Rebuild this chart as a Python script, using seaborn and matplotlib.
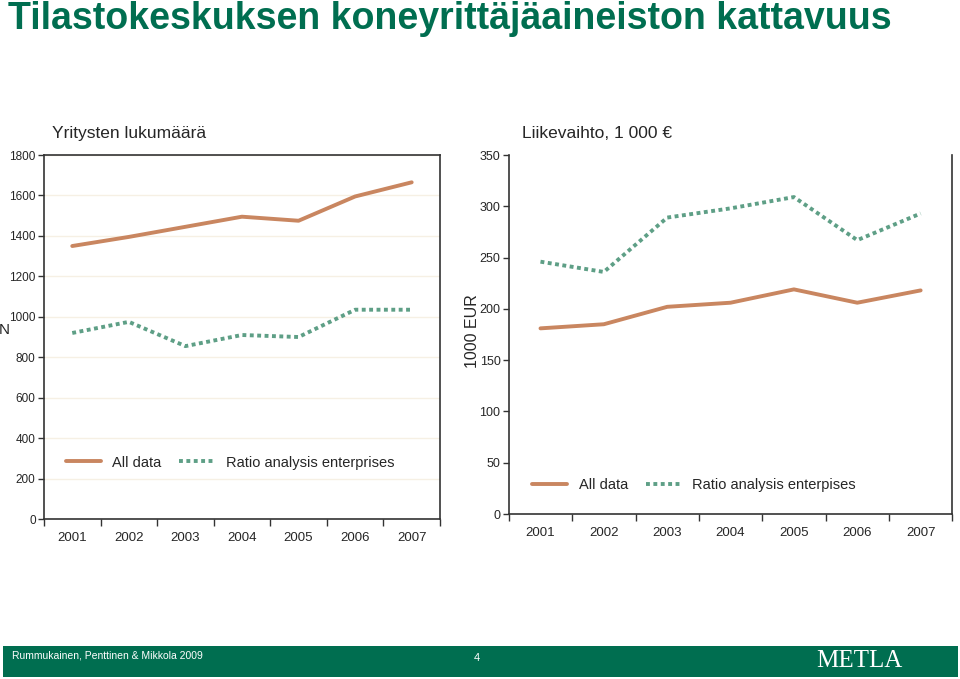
import pandas as pd
import seaborn as sns
import matplotlib.pyplot as plt
from matplotlib.patches import Rectangle
from matplotlib.ticker import MultipleLocator

# data
years = ['2001', '2002', '2003', '2004', '2005', '2006', '2007']
n_all = [1350, 1395, 1445, 1495, 1475, 1595, 1665]
n_ratio = [920, 975, 855, 910, 900, 1035, 1035]
eur_all = [181, 185, 202, 206, 219, 206, 218]
eur_ratio = [246, 236, 289, 298, 309, 267, 293]

brown = '#C98660'
green = '#5E9F86'
dark_green = '#006E50'

sns.set_theme(style='white')
plt.rcParams['font.family'] = ['Liberation Sans', 'DejaVu Sans']

fig = plt.figure(figsize=(9.6, 6.79), dpi=100)
ax1 = fig.add_axes([0.0458, 0.2356, 0.4125, 0.5361])
ax2 = fig.add_axes([0.530, 0.243, 0.462, 0.5287])


def draw(ax, all_vals, ratio_vals, ratio_name, ymax, ystep, legend_y):
    df = pd.DataFrame({
        'year': years * 2,
        'value': all_vals + ratio_vals,
        'series': ['All data'] * 7 + [ratio_name] * 7,
    })
    sns.lineplot(data=df, x='year', y='value', hue='series', style='series',
                 palette={'All data': brown, ratio_name: green},
                 dashes={'All data': '', ratio_name: (1, 0.9)},
                 linewidth=2.8, sort=False, ax=ax)
    ax.set_xlim(-0.5, 6.5)
    ax.set_ylim(0, ymax)
    ax.yaxis.set_major_locator(MultipleLocator(ystep))
    ax.set_xticks(range(7))
    ax.set_xticks([i - 0.5 for i in range(8)], minor=True)
    ax.tick_params(axis='x', which='major', length=0, labelsize=9.5, pad=9)
    ax.tick_params(axis='x', which='minor', length=5, width=1, color='#333333', bottom=True)
    ax.tick_params(axis='y', length=4, width=1, color='#333333', left=True,
                   labelsize=9, pad=2)
    ax.set_xlabel('')
    for s in ax.spines.values():
        s.set_color('#333333')
        s.set_linewidth(1.2)
    ax.legend(loc='lower left', bbox_to_anchor=(0.04, legend_y), ncol=2, frameon=False,
              fontsize=10.5, handlelength=2.4, columnspacing=1.2, borderaxespad=0)


draw(ax1, n_all, n_ratio, 'Ratio analysis enterprises', 1800, 200, 0.12)
ax1.yaxis.grid(True, color='#F6F0E4', linewidth=1)
ax1.tick_params(axis='y', labelsize=8.5)
ax1.set_ylabel('N', fontsize=11, rotation=0, va='center', ha='center')
ax1.yaxis.set_label_coords(-0.1, 0.52)

draw(ax2, eur_all, eur_ratio, 'Ratio analysis enterpises', 350, 50, 0.045)
ax2.spines['top'].set_visible(False)
ax2.set_ylabel('1000 EUR', fontsize=11.5, va='center')
ax2.yaxis.set_label_coords(-0.082, 0.51)

fig.text(0.008, 0.972, 'Tilastokeskuksen koneyrittäjäaineiston kattavuus',
         fontsize=27, fontweight='bold', color=dark_green, va='center')
fig.text(0.054, 0.803, 'Yritysten lukumäärä', fontsize=12.5, va='center')
fig.text(0.544, 0.803, 'Liikevaihto, 1 000 €', fontsize=12.5, va='center')

# footer band
fig.add_artist(Rectangle((0.003, 0.003), 0.995, 0.046, transform=fig.transFigure,
                         facecolor=dark_green, edgecolor='none'))
fig.text(0.012, 0.035, 'Rummukainen, Penttinen & Mikkola 2009', fontsize=7.5,
         color='white', va='center')
fig.text(0.497, 0.031, '4', fontsize=8, color='white', va='center', ha='center')
fig.text(0.850, 0.027, 'METLA', fontsize=18, color='white', va='center',
         family='Liberation Serif')

fig.savefig('out.png', dpi=100)
